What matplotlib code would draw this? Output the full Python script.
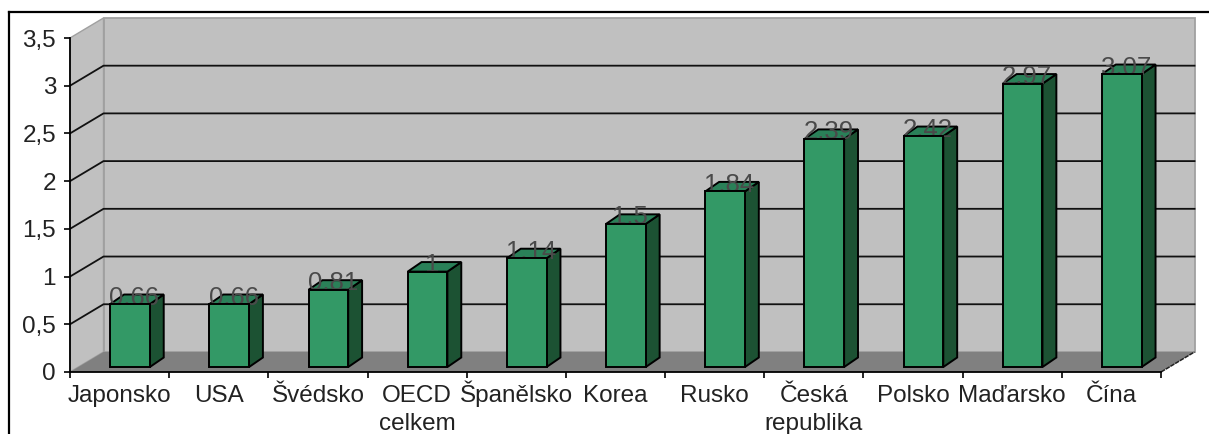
import numpy as np
import matplotlib
matplotlib.use("Agg")
import matplotlib.pyplot as plt
from matplotlib.patches import Polygon

plt.rcParams["font.family"] = ["Liberation Sans", "DejaVu Sans"]

zeme = ["Japonsko", "USA", "Švédsko", "OECD", "Španělsko", "Korea",
        "Rusko", "Česká", "Polsko", "Maďarsko", "Čína"]
druhy_radek = ["", "", "", "celkem", "", "", "", "republika", "", "", ""]
hodnoty = [0.66, 0.66, 0.81, 1, 1.14, 1.5, 1.84, 2.39, 2.42, 2.97, 3.07]
popisky = ["0,66", "0,66", "0,81", "1", "1,14", "1,5", "1,84", "2,39", "2,42", "2,97", "3,07"]
y_ticks = [0, 0.5, 1, 1.5, 2, 2.5, 3, 3.5]
y_labels = ["0", "0,5", "1", "1,5", "2", "2,5", "3", "3,5"]

fig = plt.figure(figsize=(12.09, 4.34), dpi=100)
ax = fig.add_axes([70 / 1209, (434 - 372) / 434, 1091 / 1209, 334 / 434])
ax.set_xlim(0, 11)
ax.set_ylim(0, 3.5)

# hloubka 3D efektu v jednotkach dat
hx, hy = 0.338, 0.21
n = len(zeme)


def poly(body, barva, hrana="none", lw=0, z=1):
    ax.add_patch(Polygon(body, closed=True, facecolor=barva, edgecolor=hrana,
                         linewidth=lw, clip_on=False, zorder=z))


# steny a podlaha
poly([(hx, hy), (n + hx, hy), (n + hx, 3.5 + hy), (hx, 3.5 + hy)], "#c0c0c0", "#a0a0a0", 1.3)
poly([(0, 0), (hx, hy), (hx, 3.5 + hy), (0, 3.5)], "#c0c0c0", "#a0a0a0", 1.0)
poly([(0, 0), (n, 0), (n + hx, hy), (hx, hy)], "#808080")

# mrizka
for t in y_ticks[1:-1]:
    ax.plot([0, hx, n + hx], [t, t + hy, t + hy], color="#111111", lw=1.3, clip_on=False, zorder=2)
ax.plot([n, n + hx], [0, hy], color="#222222", lw=1.1, ls=(0, (3, 0.6)), clip_on=False, zorder=2)

# sloupce
sirka = 0.40
posun = 0.105
zdvih = 0.052
dx, dy = 0.14, 0.10
for i, h in enumerate(hodnoty):
    x0 = i + 0.5 + posun - sirka / 2
    x1 = x0 + sirka
    y0 = zdvih
    y1 = h + zdvih
    poly([(x1, y0), (x1 + dx, y0 + dy), (x1 + dx, y1 + dy), (x1, y1)], "#1c5233", "black", 1.4, 3)
    poly([(x0, y1), (x1, y1), (x1 + dx, y1 + dy), (x0 + dx, y1 + dy)], "#2a8058", "black", 1.4, 3)
    ax.text((x0 + x1) / 2 + 0.045, y1, popisky[i], ha="center", va="baseline",
            fontsize=18.5, color="#4a4a4a", zorder=4)
    poly([(x0, y0), (x1, y0), (x1, y1), (x0, y1)], "#339966", "black", 1.4, 5)

# osy
for s in ["top", "right"]:
    ax.spines[s].set_visible(False)
for s in ["left", "bottom"]:
    ax.spines[s].set_linewidth(1.3)
    ax.spines[s].set_zorder(6)
ax.patch.set_visible(False)
ax.set_yticks(y_ticks)
ax.set_yticklabels(y_labels, fontsize=17.5, color="#222222")
ax.set_xticks(range(n + 1))
ax.set_xticklabels([])
ax.set_xticks(np.arange(n) + 0.5, minor=True)
# baseline, aby hacky nad pismeny neposouvaly popisek
ax.set_xticklabels(zeme, minor=True, fontsize=17.5, color="#222222", va="baseline")
ax.tick_params(axis="y", length=4, width=1.2, pad=6)
ax.tick_params(axis="x", which="major", length=4, width=1.2)
ax.tick_params(axis="x", which="minor", length=0, pad=21.5)
for i, t in enumerate(druhy_radek):
    if t:
        ax.annotate(t, (i + 0.5, 0), xytext=(0, -41.5), textcoords="offset points",
                    ha="center", va="baseline", fontsize=17.5, color="#222222",
                    annotation_clip=False)

# ramecek obrazku
fig.add_artist(plt.Line2D([9 / 1209, 9 / 1209], [0, 1 - 12 / 434], color="black", lw=1.6))
fig.add_artist(plt.Line2D([9 / 1209, 1], [1 - 12 / 434, 1 - 12 / 434], color="black", lw=1.6))

fig.savefig("out.png", dpi=100)
